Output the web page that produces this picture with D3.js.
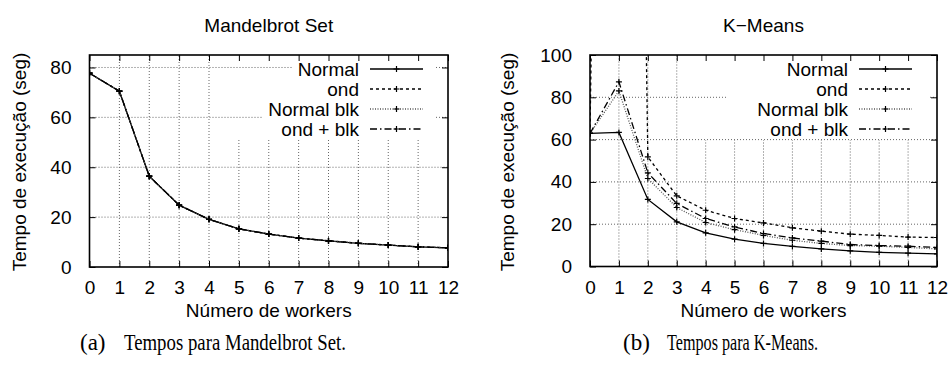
<!DOCTYPE html>
<html>
<head>
<meta charset="utf-8">
<script src="https://cdn.jsdelivr.net/npm/d3@7"></script>
<style>
  body { margin: 0; background: #fff; }
  svg text { font-family: "Liberation Sans", Arial, sans-serif; fill: #000; }
  .cap { font-family: "Liberation Serif", "Times New Roman", serif; }
</style>
</head>
<body>
<svg id="fig" width="950" height="372"></svg>
<script>
const workers = [0, 1, 2, 3, 4, 5, 6, 7, 8, 9, 10, 11, 12];
const seriesNames = ['Normal', 'ond', 'Normal blk', 'ond + blk'];

// Mandelbrot Set (all four curves lie on top of each other)
const mandelNormal    = [77.7, 70.5, 36.4, 24.8, 19.1, 15.3, 13.2, 11.6, 10.5, 9.5, 8.8, 8.1, 7.7];
const mandelOnd       = [77.7, 70.5, 36.4, 24.8, 19.1, 15.3, 13.2, 11.6, 10.5, 9.5, 8.8, 8.1, 7.7];
const mandelNormalBlk = [77.7, 70.5, 36.4, 24.8, 19.1, 15.3, 13.2, 11.6, 10.5, 9.5, 8.8, 8.1, 7.7];
const mandelOndBlk    = [77.7, 70.5, 36.4, 24.8, 19.1, 15.3, 13.2, 11.6, 10.5, 9.5, 8.8, 8.1, 7.7];

// K-Means (ond at 1 worker is far off the scale)
const kmNormal    = [62.9, 63.4, 31.7, 21.1, 15.9, 12.9, 10.9, 9.5, 8.3, 7.4, 6.7, 6.3, 6.0];
const kmOnd       = [62.9, 1000, 51.8, 33.4, 26.6, 22.7, 20.6, 18.3, 16.7, 15.3, 14.7, 13.9, 13.7];
const kmNormalBlk = [62.9, 83.0, 41.6, 27.9, 20.8, 17.4, 14.7, 12.4, 10.9, 9.9, 9.6, 9.0, 8.3];
const kmOndBlk    = [62.9, 87.3, 44.3, 29.8, 22.7, 18.7, 15.6, 13.5, 12.0, 10.4, 9.9, 9.6, 9.0];

const mandelYTicks = [0, 20, 40, 60, 80];
const kmYTicks = [0, 20, 40, 60, 80, 100];

const dashes = ['none', '3,3', '1,1.5', '7,3,1.5,3'];
const strokes = ['#000', '#000', '#555', '#000'];

const svg = d3.select('#fig');

function drawPanel(opt) {
  const x = d3.scaleLinear().domain([0, 12]).range([opt.x0, opt.x1]);
  const y = d3.scaleLinear().domain([0, opt.ymax]).range([opt.y0, opt.y1]);
  const g = svg.append('g');
  const w = opt.x1 - opt.x0, h = opt.y0 - opt.y1;

  // grid
  const grid = g.append('g').attr('stroke', '#666').attr('stroke-width', 1).attr('stroke-dasharray', '1,2');
  workers.slice(1, 12).forEach(function (d) {
    const top = d >= opt.keyVx ? opt.keyBottom : opt.y1;
    grid.append('line').attr('x1', x(d)).attr('x2', x(d)).attr('y1', opt.y0).attr('y2', top);
  });
  opt.yTicks.slice(1).forEach(function (d) {
    if (y(d) <= opt.y1 + 1) return;
    const cut = opt.keyH[d];
    if (cut) {
      grid.append('line').attr('x1', opt.x0).attr('x2', cut[0]).attr('y1', y(d)).attr('y2', y(d));
      grid.append('line').attr('x1', cut[1]).attr('x2', opt.x1).attr('y1', y(d)).attr('y2', y(d));
    } else {
      grid.append('line').attr('x1', opt.x0).attr('x2', opt.x1).attr('y1', y(d)).attr('y2', y(d));
    }
  });

  // ticks (inward, mirrored)
  const ax = g.append('g').attr('transform', 'translate(0,' + opt.y0 + ')')
    .call(d3.axisBottom(x).tickValues(workers).tickSize(-6).tickPadding(14).tickFormat(d3.format('d')));
  const axT = g.append('g').attr('transform', 'translate(0,' + opt.y1 + ')')
    .call(d3.axisTop(x).tickValues(workers).tickSize(-6).tickFormat(''));
  const ay = g.append('g').attr('transform', 'translate(' + opt.x0 + ',0)')
    .call(d3.axisLeft(y).tickValues(opt.yTicks).tickSize(-6).tickPadding(18).tickFormat(d3.format('d')));
  const ayR = g.append('g').attr('transform', 'translate(' + opt.x1 + ',0)')
    .call(d3.axisRight(y).tickValues(opt.yTicks).tickSize(-6).tickFormat(''));
  [ax, axT, ay, ayR].forEach(function (a) {
    a.select('.domain').remove();
    a.selectAll('line').attr('stroke', '#000').attr('stroke-width', 1);
    a.selectAll('text').attr('font-size', 19).attr('font-family', '"Liberation Sans", Arial, sans-serif');
  });
  ax.selectAll('text').attr('dy', '0.71em');

  // data
  const clipId = 'clip' + opt.id;
  svg.append('clipPath').attr('id', clipId).append('rect')
    .attr('x', opt.x0).attr('y', opt.y1).attr('width', w).attr('height', h);
  const line = d3.line().x(function (d, i) { return x(workers[i]); }).y(function (d) { return y(d); });
  const dg = g.append('g').attr('clip-path', 'url(#' + clipId + ')');
  opt.series.forEach(function (s, k) {
    dg.append('path').datum(s).attr('d', line).attr('fill', 'none')
      .attr('stroke', strokes[k]).attr('stroke-width', 1.3).attr('stroke-dasharray', dashes[k]);
    dg.selectAll('.m' + k).data(s).enter().append('path')
      .attr('d', function (d, i) {
        const px = x(workers[i]), py = y(d);
        return 'M' + (px - 3) + ',' + py + 'H' + (px + 3) + 'M' + px + ',' + (py - 3) + 'V' + (py + 3);
      })
      .attr('stroke', '#000').attr('stroke-width', 1.2);
  });

  // border
  g.append('rect').attr('x', opt.x0).attr('y', opt.y1).attr('width', w).attr('height', h)
    .attr('fill', 'none').attr('stroke', '#000').attr('stroke-width', 1.6);

  // key
  const kx = opt.x1 - 89, sx0 = opt.x1 - 78, sx1 = opt.x1 - 25;
  seriesNames.forEach(function (name, k) {
    const ky = 69 + k * 20;
    g.append('text').attr('x', kx).attr('y', ky).attr('dy', '0.35em')
      .attr('text-anchor', 'end').attr('font-size', 19).text(name);
    g.append('line').attr('x1', sx0).attr('x2', sx1).attr('y1', ky).attr('y2', ky)
      .attr('stroke', strokes[k]).attr('stroke-width', 1.3).attr('stroke-dasharray', dashes[k]);
    const mx = (sx0 + sx1) / 2;
    g.append('path').attr('d', 'M' + (mx - 3) + ',' + ky + 'H' + (mx + 3) + 'M' + mx + ',' + (ky - 3) + 'V' + (ky + 3))
      .attr('stroke', '#000').attr('stroke-width', 1.2);
  });

  // titles
  const cx = (opt.x0 + opt.x1) / 2;
  g.append('text').attr('x', cx).attr('y', 32).attr('text-anchor', 'middle').attr('font-size', 19).text(opt.title);
  g.append('text').attr('x', cx).attr('y', 316.5).attr('text-anchor', 'middle').attr('font-size', 19).text('Número de workers');
  g.append('text').attr('transform', 'translate(' + opt.ylabX + ',162) rotate(-90)')
    .attr('text-anchor', 'middle').attr('font-size', 19).text('Tempo de execução (seg)');

  // caption
  g.append('text').attr('class', 'cap').attr('x', opt.capX).attr('y', 350).attr('font-size', 23)
    .text(opt.capTag);
  g.append('text').attr('class', 'cap').attr('x', opt.capX + 44).attr('y', 350).attr('font-size', 23)
    .attr('textLength', opt.capW).attr('lengthAdjust', 'spacingAndGlyphs').text(opt.capText);
}

drawPanel({
  id: 'a', x0: 89.5, x1: 448, y0: 267, y1: 55, ymax: 85, yTicks: mandelYTicks,
  series: [mandelNormal, mandelOnd, mandelNormalBlk, mandelOndBlk],
  keyVx: 5, keyBottom: 140, keyH: { 80: [293, 436], 60: [263, 436] },
  title: 'Mandelbrot Set', ylabX: 25.5,
  capX: 80, capTag: '(a)', capText: 'Tempos para Mandelbrot Set.', capW: 222
});

drawPanel({
  id: 'b', x0: 590, x1: 937, y0: 266.5, y1: 55, ymax: 100, yTicks: kmYTicks,
  series: [kmNormal, kmOnd, kmNormalBlk, kmOndBlk],
  keyVx: 4, keyBottom: 140, keyH: { 80: [728, 930] },
  title: 'K\u2212Means', ylabX: 513.5,
  capX: 623, capTag: '(b)', capText: 'Tempos para K-Means.', capW: 151
});
</script>
</body>
</html>
